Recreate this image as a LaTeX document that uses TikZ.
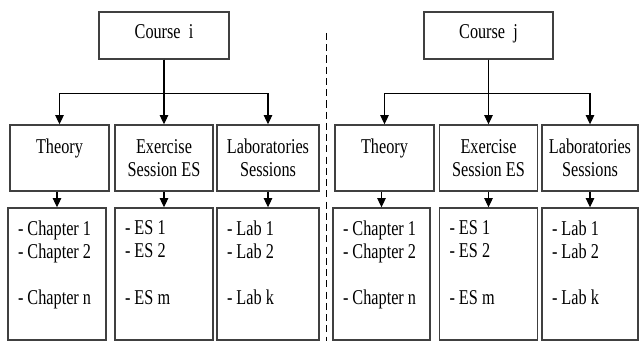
\documentclass[tikz,border=0pt]{standalone}
\usepackage{fontspec}
\setmainfont{Liberation Serif}[FakeStretch=0.77]
\usetikzlibrary{arrows.meta}
\newcommand{\boxfont}{\fontsize{15}{16.4}\selectfont
  \fontdimen2\font=2.9pt \fontdimen3\font=0pt \fontdimen4\font=0pt }

\begin{document}
\begin{tikzpicture}[font=\boxfont]
		\useasboundingbox (0,0) rectangle (15.975,-8.525);

		\begin{scope}[every node/.style={draw=black!75,line width=1pt,inner sep=0pt,
		              minimum height=1.175cm,text depth=0.2cm}]
		    \node[minimum width=3.25cm] (i) at (4.1,-0.8875) {Course~~i};
		    \node[minimum width=3.225cm] (j) at (12.2125,-0.8875) {Course~~j};
		\end{scope}

		\begin{scope}[every node/.style={draw=black!75,line width=1pt,inner sep=0pt,
		              minimum height=1.65cm,text width=2.2cm,align=flush center}]
		    \node[minimum width=2.475cm] (i1) at (1.4875,-3.95) {Theory\\\mbox{}};
		    \node[minimum width=2.45cm] (i2) at (4.1,-3.95) {Exercise\\Session ES};
		    \node[minimum width=2.55cm] (i3) at (6.7,-3.95) {Laboratories\\Sessions};
		    \node[minimum width=2.475cm] (j1) at (9.6125,-3.95) {Theory\\\mbox{}};
		    \node[minimum width=2.45cm] (j2) at (12.2125,-3.95) {Exercise\\Session ES};
		    \node[minimum width=2.4cm] (j3) at (14.75,-3.95) {Laboratories\\Sessions};
		\end{scope}

		\begin{scope}[every node/.style={draw=black!75,line width=1pt,inner ysep=0pt,
		              inner xsep=0.25cm,minimum height=3.3cm,align=flush left}]
		    \node[text width=1.95cm] (i4) at (1.425,-6.85) {- Chapter 1\\- Chapter 2\\[0.575cm]- Chapter n\\\mbox{}};
		    \node[text width=1.95cm] (i5) at (4.1,-6.85) {- ES 1\\- ES 2\\[0.575cm]- ES m\\\mbox{}};
		    \node[text width=2.05cm] (i6) at (6.7,-6.85) {- Lab 1\\- Lab 2\\[0.575cm]- Lab k\\\mbox{}};
		    \node[text width=1.925cm] (j4) at (9.5375,-6.85) {- Chapter 1\\- Chapter 2\\[0.575cm]- Chapter n\\\mbox{}};
		    \node[text width=1.95cm] (j5) at (12.2125,-6.85) {- ES 1\\- ES 2\\[0.575cm]- ES m\\\mbox{}};
		    \node[text width=1.9cm] (j6) at (14.75,-6.85) {- Lab 1\\- Lab 2\\[0.575cm]- Lab k\\\mbox{}};
		\end{scope}

		\begin{scope}[>={Triangle[length=6.5pt,width=6pt]},line width=0.75pt]
		    \draw[->] (i.south) -- ++(0,-0.85) -| (i1.north);
		    \draw[->] (i.south) -- ++(0,-0.85) -| (i3.north);
		    \path (i.south) edge[->] (i2.north);
		    \draw[->] (j.south) -- ++(0,-0.85) -| (j1.north);
		    \draw[->] (j.south) -- ++(0,-0.85) -| (j3.north);
		    \path (j.south) edge[->] (j2.north);

		    \path (i1.south -| i4.north) edge[->] (i4.north);
		    \path (i2.south) edge[->] (i5.north);
		    \path (i3.south -| i6.north) edge[->] (i6.north);
		    \path (j1.south -| j4.north) edge[->] (j4.north);
		    \path (j2.south) edge[->] (j5.north);
		    \path (j3.south -| j6.north) edge[->] (j6.north);
		\end{scope}

		% separation between the two courses
		\coordinate (d1) at (8.15,-0.825);
		\coordinate (d2) at (8.15,-8.525);
		\draw[dash pattern=on 5pt off 3pt,line width=0.7pt] (d1) -- (d2);
\end{tikzpicture}
\end{document}
